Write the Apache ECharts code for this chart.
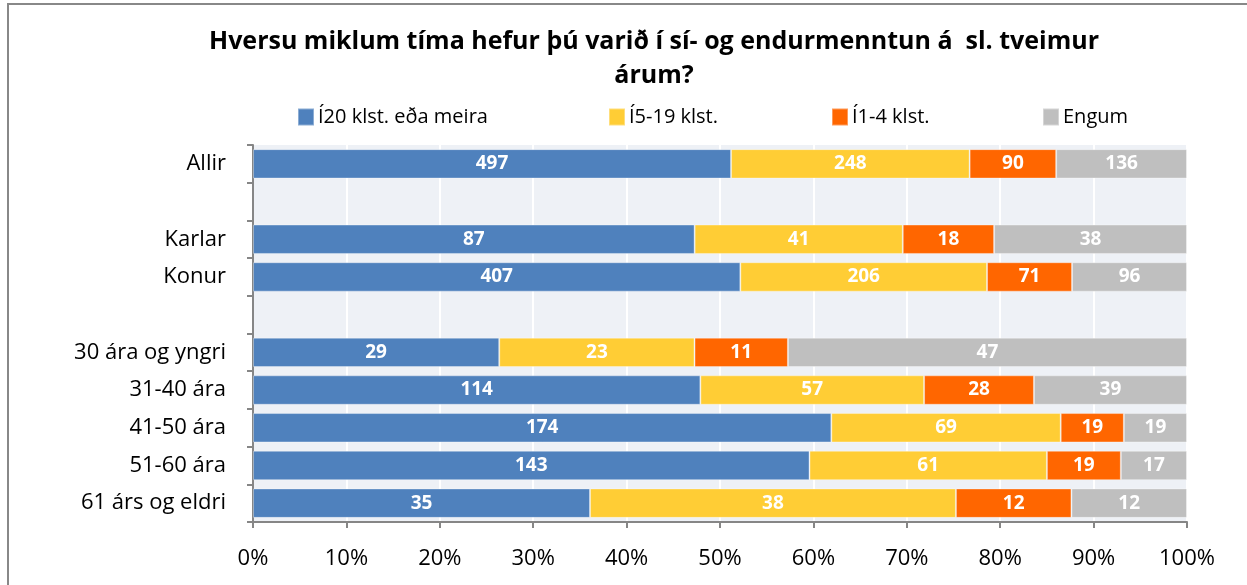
<!DOCTYPE html>
<html>
<head>
<meta charset="utf-8">
<script src="https://cdn.jsdelivr.net/npm/echarts@6/dist/echarts.min.js"></script>
<style>
  html, body { margin: 0; padding: 0; background: #fff; }
  #chart { width: 1247px; height: 585px; }
</style>
</head>
<body>
<div id="chart"></div>
<script>
// Row labels (blank rows separate the groups)
const categories = ['Allir', '', 'Karlar', 'Konur', '', '30 ára og yngri', '31-40 ára', '41-50 ára', '51-60 ára', '61 árs og eldri'];
const seriesNames = ['Í20 klst. eða meira', 'Í5-19 klst.', 'Í1-4 klst.', 'Engum'];

// Counts of answers per row
const count20plus = [497, null, 87, 407, null, 29, 114, 174, 143, 35];
const count5to19  = [248, null, 41, 206, null, 23, 57, 69, 61, 38];
const count1to4   = [90,  null, 18, 71,  null, 11, 28, 19, 19, 12];
const countNone   = [136, null, 38, 96,  null, 47, 39, 19, 17, 12];

const xTicks = [0, 10, 20, 30, 40, 50, 60, 70, 80, 90, 100];
const colors = ['#4F81BD', '#FFCD35', '#FF6600', '#BFBFBF'];
const legendLeft = [297, 608, 831, 1042];

const counts = [count20plus, count5to19, count1to4, countNone];
const totals = categories.map((_, i) =>
  counts.reduce((s, arr) => s + (arr[i] || 0), 0));

// Each bar segment is the share of its row total; the label shows the raw count
const series = counts.map((arr, k) => ({
  name: seriesNames[k],
  type: 'bar',
  stack: 'total',
  barCategoryGap: '22%',
  itemStyle: { color: colors[k], borderColor: 'rgba(255,255,255,0.35)', borderWidth: 1 },
  label: {
    show: true,
    position: 'inside',
    color: '#fff',
    fontFamily: 'Open Sans',
    fontWeight: 'bold',
    fontSize: 19,
    formatter: p => arr[p.dataIndex] == null ? '' : String(arr[p.dataIndex])
  },
  data: arr.map((v, i) => v == null ? null : v / totals[i] * 100)
}));

// One legend per entry so each sits at its own position
const legends = seriesNames.map((name, k) => ({
  data: [name],
  top: 107,
  left: legendLeft[k],
  padding: 0,
  itemWidth: 16,
  itemHeight: 17,
  itemGap: 0,
  icon: 'rect',
  textStyle: { fontSize: 20, color: '#000', fontFamily: 'Open Sans', padding: [0, 0, 0, -1] }
}));

const chart = echarts.init(document.getElementById('chart'));
chart.setOption({
  animation: false,
  backgroundColor: '#fff',
  textStyle: { fontFamily: 'Open Sans' },
  title: {
    text: 'Hversu miklum tíma hefur þú varið í sí- og endurmenntun á  sl. tveimur\nárum?',
    left: 654,
    textAlign: 'center',
    top: 25,
    padding: 0,
    textStyle: { fontFamily: 'Open Sans', fontWeight: 'bold', fontSize: 25, lineHeight: 34, color: '#000' }
  },
  legend: legends,
  grid: { left: 253, right: 60, top: 145, bottom: 63 },
  xAxis: {
    type: 'value',
    min: 0,
    max: 100,
    interval: 10,
    axisLine: { show: true, lineStyle: { color: '#868686', width: 2 } },
    axisTick: { show: true, length: 6, lineStyle: { color: '#868686', width: 2 } },
    splitLine: { show: true, lineStyle: { color: '#ffffff', width: 2 } },
    axisLabel: {
      fontSize: 22, color: '#000', margin: 26,
      formatter: v => xTicks.includes(v) ? v + '%' : ''
    }
  },
  yAxis: {
    type: 'category',
    inverse: true,
    data: categories,
    axisLine: { show: true, lineStyle: { color: '#868686', width: 2 } },
    axisTick: { show: true, length: 6, lineStyle: { color: '#868686', width: 2 } },
    axisLabel: { fontSize: 22, color: '#000', margin: 27 },
    splitArea: { show: false }
  },
  graphic: [
    {
      type: 'rect',
      z: -10,
      shape: { x: 253, y: 145, width: 934, height: 377 },
      style: { fill: '#EEF1F6' }
    },
    {
      type: 'rect',
      z: 100,
      shape: { x: 8, y: 4, width: 1400, height: 800 },
      style: { fill: 'none', stroke: '#888', lineWidth: 2 }
    }
  ],
  series: series
});
</script>
</body>
</html>
